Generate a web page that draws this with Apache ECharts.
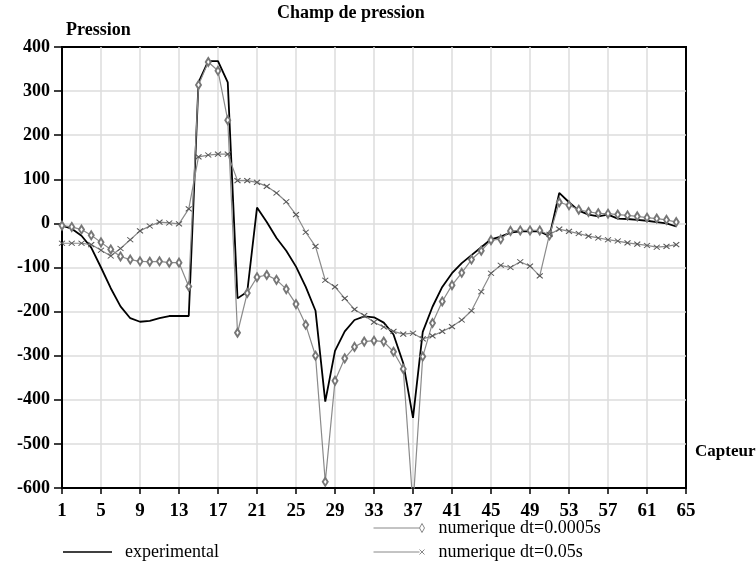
<!DOCTYPE html>
<html>
<head>
<meta charset="utf-8">
<script src="https://cdn.jsdelivr.net/npm/echarts@6/dist/echarts.min.js"></script>
<style>html,body{margin:0;padding:0;background:#fff;}#c{width:756px;height:565px;}</style>
</head>
<body>
<div id="c"></div>
<script>
var capteurs = [1,2,3,4,5,6,7,8,9,10,11,12,13,14,15,16,17,18,19,20,21,22,23,24,25,26,27,28,29,30,31,32,33,34,35,36,37,38,39,40,41,42,43,44,45,46,47,48,49,50,51,52,53,54,55,56,57,58,59,60,61,62,63,64];
var experimental = [-5,-12,-28,-55,-100,-147,-188,-215,-223,-221,-215,-210,-210,-210,320,368,368,320,-170,-155,36,3,-33,-62,-98,-144,-198,-404,-289,-245,-219,-211,-213,-225,-252,-317,-441,-246,-189,-144,-113,-90,-72,-54,-36,-30,-21,-18,-18,-18,-29,69,48,29,20,16,20,11,10,8,6,3,0,-7];
var num0005 = [-5,-8,-14,-27,-43,-59,-75,-82,-86,-87,-86,-89,-89,-143,314,366,346,234,-248,-158,-122,-117,-128,-149,-183,-230,-300,-586,-357,-306,-280,-268,-266,-268,-291,-330,-640,-302,-226,-177,-140,-112,-82,-62,-38,-36,-17,-16,-16,-16,-27,48,41,31,26,23,22,20,18,16,13,11,8,3];
var num005 = [-45,-45,-45,-48,-61,-74,-57,-37,-17,-6,3,1,-1,33,151,155,157,157,97,97,93,84,69,49,20,-20,-52,-129,-144,-170,-195,-209,-224,-235,-245,-251,-249,-262,-255,-245,-234,-219,-198,-155,-113,-95,-100,-87,-97,-119,-25,-13,-18,-23,-29,-33,-37,-40,-44,-47,-50,-54,-52,-48];
var seriesNames = ['experimental', 'numerique dt=0.0005s', 'numerique dt=0.05s'];
var titleText = 'Champ de pression';
var yName = 'Pression';
var xName = 'Capteur';

function pairs(vals){ return capteurs.map(function(c,i){ return [c, vals[i]]; }); }

var serif = '"Liberation Serif","DejaVu Serif",serif';
var chart = echarts.init(document.getElementById('c'), null, {renderer:'canvas'});
chart.setOption({
  animation: false,
  backgroundColor: '#fff',
  title: {
    text: titleText, left: 277, top: 4, padding: 0,
    textStyle: {fontFamily: serif, fontSize: 18, fontWeight: 'bold', color: '#000'}
  },
  graphic: [
    {type:'text', left: 66, top: 21, style:{text: yName, font: 'bold 18px ' + serif, fill:'#000'}},
    {type:'text', left: 695, top: 443, style:{text: xName, font: 'bold 17px ' + serif, fill:'#000'}}
  ],
  grid: {left: 62, right: 70, top: 47, bottom: 77, show: true, borderColor: '#000', borderWidth: 2, backgroundColor: 'transparent'},
  legend: [
    {
      left: 63, top: 542, padding: 0, itemWidth: 49, itemHeight: 1.3,
      data: [{name: seriesNames[0], icon: 'rect', itemStyle:{color:'#000', borderWidth:0}}],
      textStyle: {fontFamily: serif, fontSize: 18, lineHeight: 20, color:'#000', padding:[0,0,0,8]}
    },
    {
      left: 373, top: 518, padding: 0, orient: 'vertical', itemWidth: 51, itemHeight: 9, itemGap: 4,
      data: [
        {name: seriesNames[1], icon: 'path://M0,4.5L46,4.5M48.5,0L51,4.5L48.5,9L46,4.5Z', itemStyle:{color:'#fff', borderColor:'#888', borderWidth:1}},
        {name: seriesNames[2], icon: 'path://M0,4.5L46,4.5M46,2L51,7M46,7L51,2', itemStyle:{color:'#fff', borderColor:'#888', borderWidth:1}}
      ],
      textStyle: {fontFamily: serif, fontSize: 18, lineHeight: 20, color:'#000', padding:[0,0,0,9]}
    }
  ],
  xAxis: {
    type: 'value', min: 1, max: 65, interval: 4,
    axisLine: {onZero: false, lineStyle: {color:'#000', width: 2}},
    axisTick: {show: true, length: 6, lineStyle: {color:'#000', width: 1.5}},
    axisLabel: {fontFamily: serif, fontSize: 19, fontWeight: 'bold', color:'#000', margin: 14},
    splitLine: {show: true, showMaxLine: false, lineStyle: {color:'#dcdcdc', width: 1.5}}
  },
  yAxis: {
    type: 'value', min: -600, max: 400, interval: 100,
    axisLine: {show: true, onZero: false, lineStyle: {color:'#000', width: 2}},
    axisTick: {show: true, length: 8, lineStyle: {color:'#000', width: 1.5}},
    axisLabel: {fontFamily: serif, fontSize: 18, fontWeight: 'bold', color:'#000', margin: 12},
    splitLine: {show: true, showMaxLine: false, lineStyle: {color:'#dcdcdc', width: 1.5}}
  },
  series: [
    {
      name: seriesNames[0], type: 'line', data: pairs(experimental),
      symbol: 'none', clip: true,
      lineStyle: {color:'#000', width: 1.8},
      itemStyle: {color:'#000'}
    },
    {
      name: seriesNames[1], type: 'line', data: pairs(num0005),
      symbol: 'emptyDiamond', symbolSize: [5, 8], clip: true,
      lineStyle: {color:'#8a8a8a', width: 1.2},
      itemStyle: {color:'#777', borderColor:'#777', borderWidth: 1}
    },
    {
      name: seriesNames[2], type: 'line', data: pairs(num005),
      symbol: 'path://M0,0L10,10M0,10L10,0', symbolSize: [6, 5], clip: true,
      lineStyle: {color:'#8a8a8a', width: 1.2},
      itemStyle: {color:'#666', borderColor:'#555', borderWidth: 1}
    }
  ]
});
</script>
</body>
</html>
